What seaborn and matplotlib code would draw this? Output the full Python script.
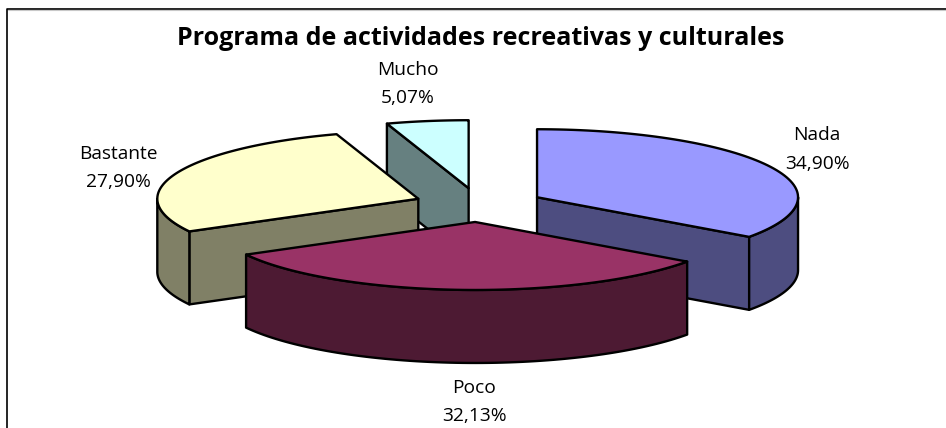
import numpy as np
import matplotlib
matplotlib.use("Agg")
import matplotlib.pyplot as plt
from matplotlib.colors import to_rgb
import seaborn as sns

# datos
categorias = ["Nada", "Poco", "Bastante", "Mucho"]
valores = [34.90, 32.13, 27.90, 5.07]
colores = ["#9999FF", "#993366", "#FFFFCC", "#CCFFFF"]
titulo = "Programa de actividades recreativas y culturales"

sns.set_theme(style="white")
plt.rcParams["font.family"] = ["Open Sans", "DejaVu Sans"]

# geometria de la tarta en pixeles
cx, cy = 479, 205
rx, ry = 261, 68
prof = 73
explode = 0.25
paleta = sns.color_palette(colores)

# posicion de cada etiqueta (centro x, y de cada linea)
pos_etiquetas = {
    "Nada": (817, 135, 164),
    "Poco": (474, 388, 416),
    "Bastante": (118, 154, 182),
    "Mucho": (408, 70, 98),
}

fig = plt.figure(figsize=(9.46, 4.28), dpi=100, facecolor="white")
ax = fig.add_axes([0, 0, 1, 1])
ax.set_xlim(0, 946)
ax.set_ylim(428, 0)
ax.axis("off")

# marco del grafico
ax.plot([6.5, 6.5, 946], [428, 8.5, 8.5], color="black", lw=1.2, zorder=1)
ax.plot([8, 946], [10, 10], color="#c8c8c8", lw=0.8, zorder=1)


def arco(x0, y0, t1, t2):
    t = np.radians(np.linspace(t1, t2, 80))
    return x0 + rx * np.sin(t), y0 - ry * np.cos(t)


def cara(xs, ys, color, z):
    ax.fill(xs, ys, facecolor=color, edgecolor="black", lw=1.7, joinstyle="round", zorder=z)


def rebanada(inicio, fin, color, z):
    medio = np.radians((inicio + fin) / 2)
    x0 = cx + rx * explode * np.sin(medio)
    y0 = cy - ry * explode * np.cos(medio)
    oscuro = tuple(c * 0.5 for c in to_rgb(color))

    # caras de corte que se ven desde delante
    for ang, visible in ((inicio, np.sin(np.radians(inicio)) < -1e-9), (fin, np.sin(np.radians(fin)) > 1e-9)):
        if visible:
            xa, ya = arco(x0, y0, ang, ang)
            cara([x0, xa[0], xa[0], x0], [y0, ya[0], ya[0] + prof, y0 + prof], oscuro, z)

    # borde exterior, solo la mitad de delante
    a, b = max(inicio, 90), min(fin, 270)
    if a < b:
        xa, ya = arco(x0, y0, a, b)
        cara(np.r_[xa, xa[::-1]], np.r_[ya, ya[::-1] + prof], oscuro, z)

    # cara superior
    xa, ya = arco(x0, y0, inicio, fin)
    cara(np.r_[x0, xa], np.r_[y0, ya], color, z)


# angulos en sentido horario desde arriba, como en Excel
total = sum(valores)
limites = np.cumsum([0] + valores) / total * 360
orden_dibujo = {"Mucho": 2, "Nada": 3, "Bastante": 4, "Poco": 5}
for i, nombre in enumerate(categorias):
    rebanada(limites[i], limites[i + 1], paleta[i], orden_dibujo[nombre])

for nombre, valor in zip(categorias, valores):
    x, y1, y2 = pos_etiquetas[nombre]
    ax.text(x, y1, nombre, ha="center", va="center", fontsize=13.8, color="black", zorder=10)
    ax.text(x, y2, f"{valor:.2f}%".replace(".", ","), ha="center", va="center", fontsize=13.8, color="black", zorder=10)

ax.text(481, 38, titulo, ha="center", va="center", fontsize=18, fontweight="bold", color="black", zorder=10)

fig.savefig("out.png", dpi=100)
